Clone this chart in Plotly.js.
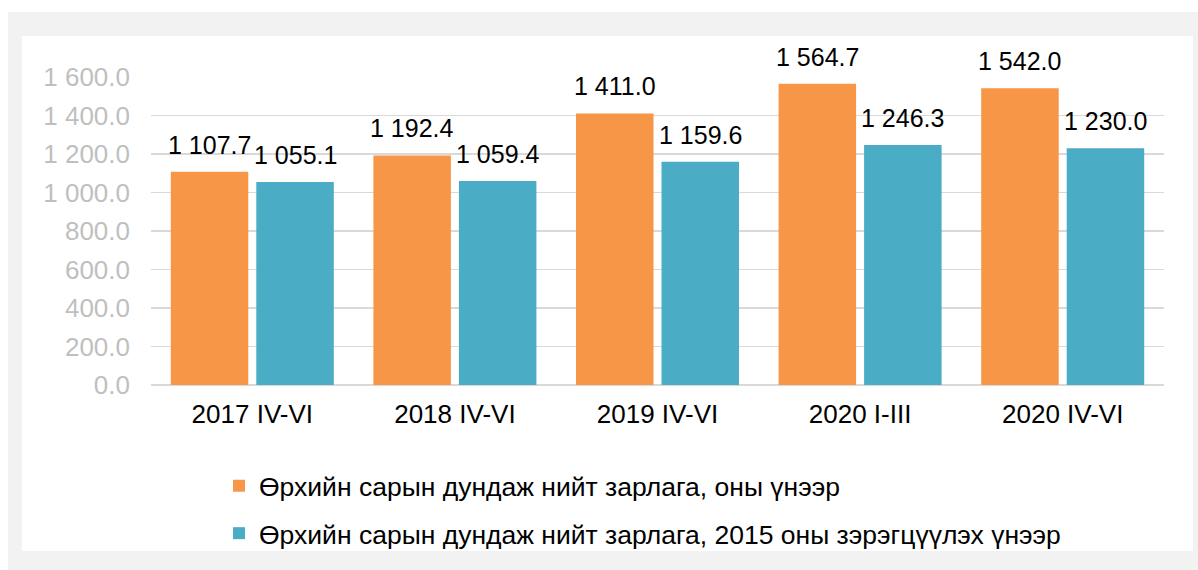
<!DOCTYPE html>
<html>
<head>
<meta charset="utf-8">
<script src="https://cdn.plot.ly/plotly-3.0.1.min.js"></script>
<style>html,body{margin:0;padding:0;background:#fff;}#chart{width:1198px;height:570px;}</style>
</head>
<body>
<div id="chart"></div>
<script>
var categories = ["2017 IV-VI", "2018 IV-VI", "2019 IV-VI", "2020 I-III", "2020 IV-VI"];
var seriesNames = ["Өрхийн сарын дундаж нийт зарлага, оны үнээр", "Өрхийн сарын дундаж нийт зарлага, 2015 оны зэрэгцүүлэх үнээр"];
var currentPrices = [1107.7, 1192.4, 1411.0, 1564.7, 1542.0];
var constPrices = [1055.1, 1059.4, 1159.6, 1246.3, 1230.0];
var yTicks = [0, 200, 400, 600, 800, 1000, 1200, 1400, 1600];

var FONT = "Liberation Sans, Arial, sans-serif";
var ORANGE = "#f79646", TEAL = "#4bacc6";

function fmt(v) {
  var s = v.toFixed(1);
  var parts = s.split(".");
  var int = parts[0].replace(/\B(?=(\d{3})+(?!\d))/g, " ");
  return int + "." + parts[1];
}

var W = 1198, H = 570, ml = 151, mr = 34, mt = 77, mb = 185;
var pw = W - ml - mr, ph = H - mt - mb;
function px2x(p) { return (p - ml) / pw; }
function py2y(p) { return (H - mb - p) / ph; }

var traces = [
  {type: "bar", x: categories, y: currentPrices, name: seriesNames[0], legendgroup: "a",
   marker: {color: ORANGE}, hoverinfo: "none"},
  {type: "bar", x: categories, y: constPrices, name: seriesNames[1], legendgroup: "b",
   marker: {color: TEAL}, hoverinfo: "none"}
];

var annotations = [];
[currentPrices, constPrices].forEach(function (arr, si) {
  arr.forEach(function (v, i) {
    annotations.push({
      x: categories[i], y: v, xref: "x", yref: "y", text: fmt(v), showarrow: false,
      xshift: si === 0 ? -42.75 : 42.75, yshift: 27, yanchor: "middle", xanchor: "center",
      font: {family: FONT, size: 25, color: "#000"}
    });
  });
});

var shapes = [
  {type: "rect", xref: "paper", yref: "paper", layer: "below",
   x0: px2x(8), x1: px2x(1198), y0: py2y(570), y1: py2y(12),
   fillcolor: "#f2f2f2", line: {width: 0}},
  {type: "rect", xref: "paper", yref: "paper", layer: "below",
   x0: px2x(22), x1: px2x(1193), y0: py2y(551), y1: py2y(36),
   fillcolor: "#ffffff", line: {width: 0}}
];

var layout = {
  width: W, height: H,
  margin: {l: ml, r: mr, t: mt, b: mb, pad: 0},
  paper_bgcolor: "#ffffff", plot_bgcolor: "rgba(0,0,0,0)",
  separators: ". ",
  barmode: "group", bargap: 0.156, bargroupgap: 0.0936,
  font: {family: FONT, size: 26, color: "#000"},
  xaxis: {type: "category", tickfont: {family: FONT, size: 26, color: "#000"},
          showgrid: false, showline: false, ticks: "", ticklabelstandoff: 11, fixedrange: true},
  yaxis: {range: [0, 1600], tickvals: yTicks, tickformat: ",.1f",
          tickfont: {family: FONT, size: 26, color: "#bfbfbf"},
          showgrid: true, gridcolor: "#d9d9d9", gridwidth: 1.3,
          zeroline: true, zerolinecolor: "#d9d9d9", zerolinewidth: 1.5,
          showline: false, ticks: "", ticklabelstandoff: 20, fixedrange: true},
  showlegend: true,
  legend: {orientation: "v", x: px2x(219), xanchor: "left", y: py2y(462), yanchor: "top",
           font: {family: FONT, size: 26.5, color: "#000"}, traceorder: "grouped",
           tracegroupgap: 10, bgcolor: "rgba(0,0,0,0)", itemclick: false, itemdoubleclick: false},
  annotations: annotations,
  shapes: shapes
};

Plotly.newPlot("chart", traces, layout, {displayModeBar: false, staticPlot: true});
</script>
</body>
</html>
